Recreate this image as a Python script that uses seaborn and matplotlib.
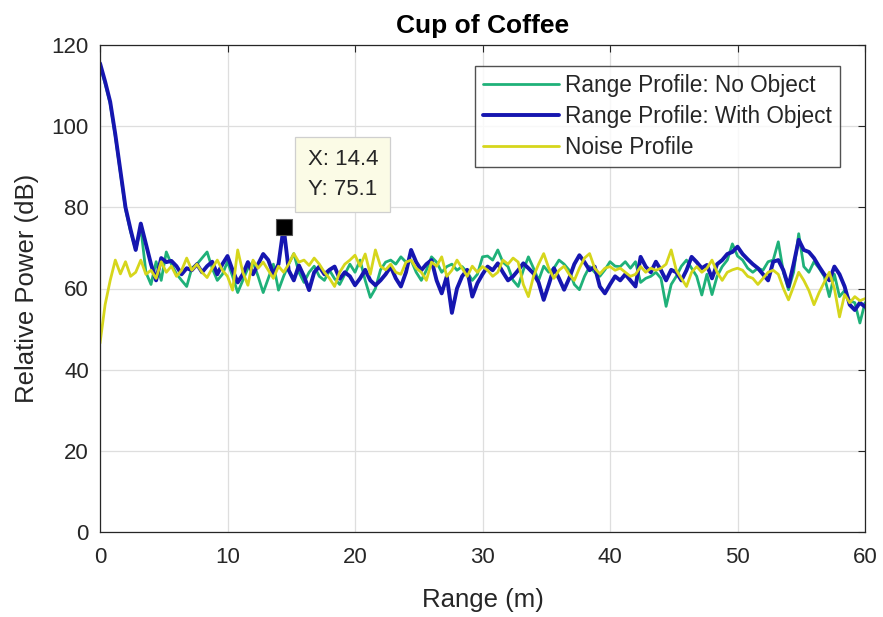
import numpy as np
import pandas as pd
import matplotlib
matplotlib.use("Agg")
import matplotlib.pyplot as plt
import seaborn as sns

# Range bins (m), 0.4 m spacing from 0 to 60 m
range_m = np.round(np.arange(151) * 0.4, 1)

# Relative power (dB) per range bin
power_no_object = [
    115, 110.5, 105.5, 97.5, 88.5, 79.5, 74, 69.5, 75, 64,
    61, 66.6, 62, 69, 66, 63.6, 62, 60.5, 65, 66,
    67.5, 69, 65, 62, 63.5, 66.6, 63, 59, 62, 65,
    66.6, 63, 59, 62.5, 66, 59.6, 63, 66, 68.6, 64,
    61.5, 64, 65.5, 63, 62, 64.5, 62.4, 61, 63.5, 66,
    64, 67, 62, 57.8, 60, 64.6, 66.5, 67, 66, 67.8,
    66.5, 67, 64, 62, 64.5, 67.8, 66.5, 64, 65.4, 66,
    64.5, 65.4, 64, 62, 63.5, 67.8, 68, 67, 69.5, 66.5,
    65.4, 62, 60.5, 64.5, 67.8, 65, 62, 65.5, 64, 65,
    67, 66, 64.5, 61, 59.7, 63, 65.4, 64, 63, 64.6,
    66.6, 65.5, 65.4, 66.6, 65, 66.6, 61.5, 62.5, 63, 64,
    62.5, 55.6, 61, 63, 65.5, 67, 65, 63, 58.4, 63.5,
    58.5, 63, 65.4, 67, 71, 68, 67, 65, 64, 65,
    64.5, 66.6, 67, 71.5, 64, 59.7, 64, 73.5, 65.4, 64,
    66.6, 65, 63, 58, 63.5, 58, 59.5, 57, 56.5, 51.5,
    56.5,
]

power_with_object = [
    115.5, 111, 106, 98, 89, 80, 74.5, 69.5, 76, 71,
    66, 62, 67.5, 66.5, 66.8, 65.5, 63.5, 65, 64.5, 66,
    64, 65.5, 66.6, 63.5, 66, 68, 64.5, 61.5, 63.5, 66.5,
    63.5, 66, 68.5, 67, 63.5, 66, 75.1, 64.5, 62, 65.7,
    63, 59.6, 64, 65.4, 63.5, 64.6, 65.4, 62.4, 64, 63,
    60.8, 62.5, 64.6, 62, 60.8, 62, 63.5, 65.4, 62.5, 60.5,
    64, 69.5, 66.5, 64.5, 66, 67, 62, 58.8, 63, 54,
    60, 63, 64.6, 58, 61.3, 63.5, 65.4, 64.5, 66.2, 64,
    62, 63, 64.5, 66.2, 65, 63.7, 61.5, 57.2, 61, 65,
    62.5, 59.7, 62.5, 66, 68.2, 66.5, 64.5, 65.4, 60.5, 58.8,
    61, 63, 62, 63.5, 62, 60.5, 67.8, 65.4, 64, 66.6,
    64.5, 62, 64.6, 64, 62, 64.5, 67.8, 66.5, 65, 65.8,
    62.5, 66, 67, 68.5, 69, 70.3, 68.5, 67.2, 66, 65,
    63.5, 62, 66.6, 67, 64.5, 60.5, 66, 72, 69.5, 69,
    67.5, 65.4, 63.5, 62, 65.4, 63.5, 60.5, 56, 54.7, 56.5,
    55.5,
]

power_noise = [
    46.5, 56, 62, 67, 63.6, 66.6, 63, 64, 67, 63.5,
    64.5, 62.5, 66.6, 64, 65.5, 63, 64.5, 67.5, 64.5, 66,
    64, 62.7, 65, 67, 64.5, 63, 59.6, 69.5, 64, 60.8,
    67, 65, 66.5, 64.5, 62.5, 65.5, 64, 66, 68.6, 66.5,
    67, 65.7, 67.5, 66, 64, 62.5, 60.5, 64, 66, 67,
    68.2, 65.5, 68.5, 63.5, 69.5, 65.5, 64.6, 66, 64, 63.5,
    66.5, 67, 65, 64, 62, 66.5, 65.5, 67.8, 63, 64.5,
    67, 65, 63, 65.5, 64, 65.4, 64.5, 63, 64, 67,
    66, 67.5, 66.5, 61, 58, 63, 66, 68.6, 65, 62.5,
    64.5, 65.5, 63.5, 62, 65, 67.5, 68.6, 65, 63.6, 65,
    65.4, 64.5, 65, 64, 63, 63.5, 65.4, 64, 65, 64.5,
    65, 66, 69.5, 64.5, 62.5, 60.5, 64, 65.4, 64, 65,
    67, 64, 62, 64, 64.6, 65, 64.5, 63, 62.5, 61,
    62.5, 64, 64.5, 63.5, 60, 57.2, 60.5, 64, 62, 59.5,
    56, 59, 61.5, 64, 60, 53, 58.5, 56.5, 58, 57,
    57.5,
]

series_labels = [
    "Range Profile: No Object",
    "Range Profile: With Object",
    "Noise Profile",
]
x_ticks = [0, 10, 20, 30, 40, 50, 60]
y_ticks = [0, 20, 40, 60, 80, 100, 120]

# Data tip on the object return
tip_x, tip_y = 14.4, 75.1

sns.set_style("white")
plt.rcParams["font.family"] = ["Liberation Sans", "DejaVu Sans"]

text_color = "#262626"
green = "#1fb179"
blue = "#1616b0"
yellow = "#d6d61c"

fig = plt.figure(figsize=(8.83, 6.17), dpi=100)
ax = fig.add_axes([100 / 883, 1 - 532 / 617, 765 / 883, 487 / 617])

df = pd.DataFrame({
    "range": range_m,
    "no_object": power_no_object,
    "with_object": power_with_object,
    "noise": power_noise,
})

sns.lineplot(data=df, x="range", y="no_object", color=green, linewidth=2.0,
             label=series_labels[0], ax=ax)
sns.lineplot(data=df, x="range", y="with_object", color=blue, linewidth=2.8,
             label=series_labels[1], ax=ax)
sns.lineplot(data=df, x="range", y="noise", color=yellow, linewidth=2.0,
             label=series_labels[2], ax=ax)

ax.set_xlim(0, 60)
ax.set_ylim(0, 120)
ax.set_xticks(x_ticks)
ax.set_yticks(y_ticks)
ax.grid(True, color="#dedede", linewidth=0.9)
ax.set_axisbelow(True)

for side in ["left", "right", "top", "bottom"]:
    ax.spines[side].set_visible(True)
    ax.spines[side].set_color(text_color)
    ax.spines[side].set_linewidth(0.9)

ax.tick_params(axis="both", which="both", direction="in", length=5, width=0.8,
               color=text_color, labelcolor=text_color, labelsize=16,
               top=True, right=True)
ax.tick_params(axis="x", pad=11)
ax.tick_params(axis="y", pad=8)

ax.set_xlabel("Range (m)", fontsize=18.5, color=text_color, labelpad=14)
ax.set_ylabel("Relative Power (dB)", fontsize=18.5, color=text_color, labelpad=9)
ax.set_title("Cup of Coffee", fontsize=19, fontweight="bold", color="black", pad=9)

leg = ax.legend(loc="upper right", bbox_to_anchor=(740 / 765, (532 - 66) / 487),
                borderaxespad=0, fontsize=16.3, frameon=True, fancybox=False,
                handlelength=3.35, handletextpad=0.3, labelspacing=0.36,
                borderpad=0.35, edgecolor=text_color)
leg.get_frame().set_linewidth(1.0)
for txt in leg.get_texts():
    txt.set_color(text_color)

# Data tip marker and label
ax.plot([tip_x], [tip_y], marker="s", markersize=11, markerfacecolor="black",
        markeredgecolor="#555555", markeredgewidth=0.8, linestyle="none", zorder=5)
ax.annotate(f"X: {tip_x}\nY: {tip_y}", xy=(tip_x, tip_y), xytext=(24, 27),
            textcoords="offset pixels", ha="left", va="bottom", fontsize=16,
            color=text_color, linespacing=1.55,
            bbox=dict(boxstyle="square,pad=0.55", facecolor="#fbfbe6",
                      edgecolor="#cfcfcf", linewidth=0.9),
            zorder=6)

fig.savefig("out.png", dpi=100)
